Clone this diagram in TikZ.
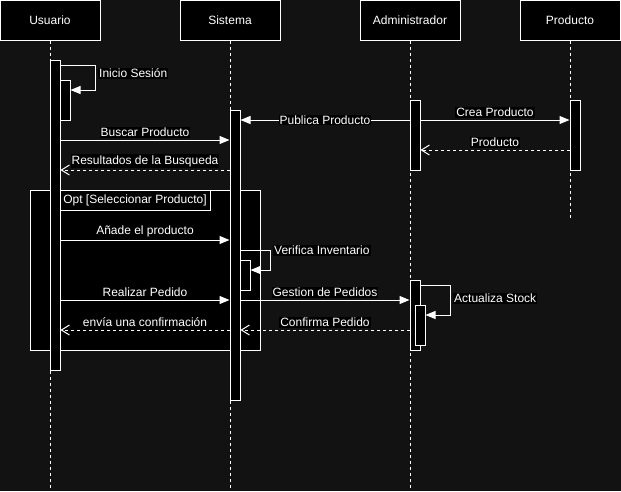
\documentclass[tikz,border=0pt]{standalone}
\usepackage{fontspec}
\setmainfont{Liberation Sans}
\usetikzlibrary{arrows.meta}
\definecolor{bgdark}{HTML}{121212}

\begin{document}
\begin{tikzpicture}[
  x=1pt, y=-1pt,
  actor/.style={rectangle, draw=white, fill=black, line width=1pt,
                minimum width=100pt, minimum height=40pt, inner sep=0pt,
                text=white, font=\fontsize{12}{14}\selectfont},
  life/.style={draw=white, line width=1pt, dash pattern=on 3pt off 3pt},
  act/.style={rectangle, draw=white, fill=black, line width=1pt,
              minimum width=10pt, inner sep=0pt},
  optframe/.style={rectangle, draw=white, fill=black, line width=1pt,
                   inner sep=0pt, text=white, font=\fontsize{12}{14}\selectfont},
  msg/.style={-{Triangle[length=10pt,width=8pt]}, draw=white, line width=1pt},
  ret/.style={-{Straight Barb[length=8pt,width=10pt]}, draw=white, line width=1pt,
              dash pattern=on 3pt off 3pt},
  lbl/.style={fill=black, text=white, inner sep=1pt, font=\fontsize{12}{14}\selectfont},
  up/.style={above, yshift=2pt},
]

% background and page size
\useasboundingbox (0,0) rectangle (621,491);
\fill[bgdark] (0,0) rectangle (621,491);

% actors
\node[actor] (usr) at (50,20)  {Usuario};
\node[actor] (sis) at (230,20) {Sistema};
\node[actor] (adm) at (410,20) {Administrador};
\node[actor] (prd) at (570,20) {Producto};

% lifelines
\coordinate (bot)  at (0,490);
\coordinate (pend) at (0,220);
\draw[life] (usr.south) -- (usr.south |- bot);
\draw[life] (sis.south) -- (sis.south |- bot);
\draw[life] (adm.south) -- (adm.south |- bot);
\draw[life] (prd.south) -- (prd.south |- pend);

% opt fragment
\node[optframe, minimum width=230pt, minimum height=160pt] (opt) at (145,270) {};
\node[optframe, minimum width=150pt, minimum height=20pt] (optlbl) at (135,200)
  {Opt [Seleccionar Producto]};

% activations
\node[act, minimum height=310pt] (uact)  at (55,215)  {};
\node[act, minimum height=40pt]  (uact2) at (65,100)  {};
\node[act, minimum height=290pt] (sact)  at (235,255) {};
\node[act, minimum height=30pt]  (sact2) at (245,275) {};
\node[act, minimum height=70pt]  (aact)  at (415,135) {};
\node[act, minimum height=70pt]  (pact)  at (575,135) {};
\node[act, minimum height=70pt]  (aact2) at (415,315) {};
\node[act, minimum height=40pt]  (aact3) at (420,325) {};

% self messages
\draw[msg] (uact.east |- 0,65) -- ++(35,0) |- (uact2.east |- 0,90);
\node[lbl, anchor=west] (linicio) at (98,73.5) {Inicio Sesión};
\draw[msg] (sact.east |- 0,250) -- ++(30,0) |- (sact2.east |- 0,270);
\node[lbl, anchor=west] (lverif) at (273,250.7) {Verifica Inventario};
\draw[msg] (aact2.east |- 0,285) -- ++(30,0) |- (aact3.east |- 0,315);
\node[lbl, anchor=west] (lstock) at (453,298.7) {Actualiza Stock};

% product creation
\draw[msg] (aact.west |- 0,120) -- node[lbl] (lpub) {Publica Producto} (sact.east |- 0,120);
\draw[msg] (aact.east |- 0,120) -- node[lbl, up] (lcrea) {Crea Producto} (pact.west |- 0,120);
\draw[ret] (pact.west |- 0,150) -- node[lbl, up] (lprod) {Producto} (aact.east |- 0,150);

% search
\draw[msg] (uact.east |- 0,140) -- node[lbl, up] (lbusca) {Buscar Producto} (sact.west |- 0,140);
\draw[ret] (sact.west |- 0,170) -- node[lbl, up] (lres) {Resultados de la Busqueda} (uact.east |- 0,170);

% order
\draw[msg] (uact.east |- 0,240) -- node[lbl, up] (lanade) {Añade el producto} (sact.west |- 0,240);
\draw[msg] (uact.east |- 0,300) -- node[lbl, up] (lreal) {Realizar Pedido} (sact.west |- 0,300);
\draw[msg] (sact.east |- 0,300) -- node[lbl, up] (lgest) {Gestion de Pedidos} (aact2.west |- 0,300);
\draw[ret] (aact2.west |- 0,330) -- node[lbl, up] (lconf) {Confirma Pedido} (sact.east |- 0,330);
\draw[ret] (sact.west |- 0,330) -- node[lbl, up] (lenvia) {envía una confirmación} (uact.east |- 0,330);

\end{tikzpicture}
\end{document}
